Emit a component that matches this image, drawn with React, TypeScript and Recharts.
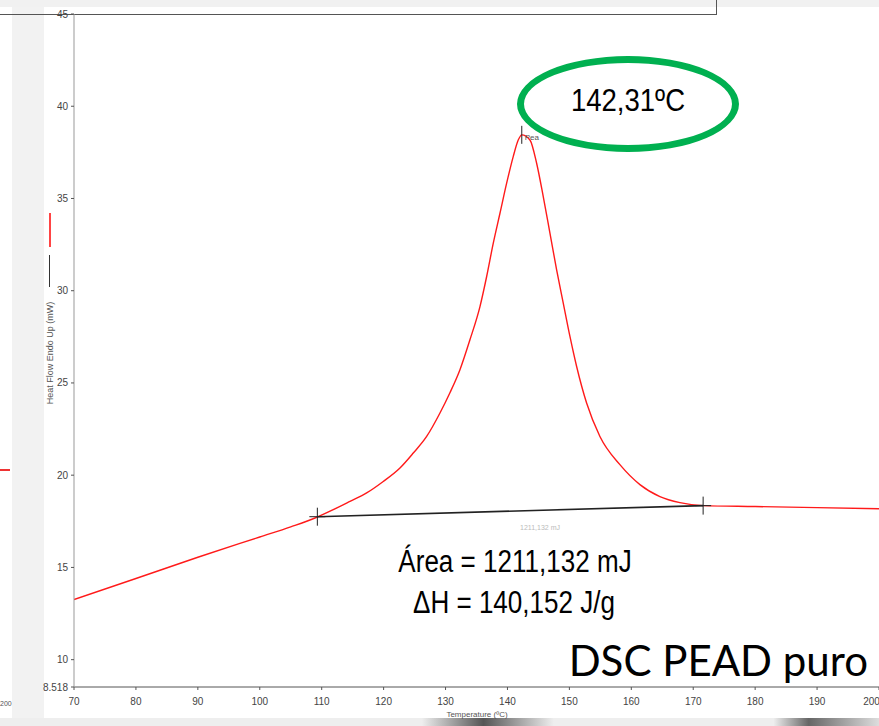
import React from 'react';
import { LineChart, Line, XAxis, YAxis, Scatter } from 'recharts';

// Temperature (ºC) and heat flow (mW)
const curveTemp = [70, 80, 90, 100, 105, 108.92, 111.87, 114.57, 117.26, 119.94, 122.64, 124.79, 126.95, 129.10, 130.71, 132.33, 133.94, 135.56, 136.64, 137.71, 138.79, 139.87, 140.93, 141.74, 142.31, 143.63, 144.71, 145.78, 146.86, 147.94, 149.01, 150.09, 151.17, 152.78, 154.93, 158.16, 161.39, 164.62, 167.85, 171.57, 180, 190, 200];
const curveHeat = [13.26, 14.4, 15.55, 16.65, 17.2, 17.68, 18.13, 18.58, 19.04, 19.66, 20.39, 21.2, 22.1, 23.37, 24.47, 25.72, 27.34, 29.14, 30.77, 32.58, 34.2, 35.83, 37.27, 38.17, 38.45, 38.17, 36.91, 35.1, 33.12, 31.13, 29.33, 27.52, 25.89, 23.91, 22.1, 20.57, 19.49, 18.84, 18.51, 18.35, 18.3, 18.24, 18.18];

// Integration baseline
const baseTemp = [109.3, 171.6];
const baseHeat = [17.75, 18.35];

// Peak marker
const peakTemp = [142.31];
const peakHeat = [38.45];

const xTicks = [70, 80, 90, 100, 110, 120, 130, 140, 150, 160, 170, 180, 190, 200];
const yTicks = [8.518, 10, 15, 20, 25, 30, 35, 40, 45];

const curveData = curveTemp.map((t, i) => ({ t, v: curveHeat[i] }));
const baseData = baseTemp.map((t, i) => ({ t, v: baseHeat[i] }));
const peakData = peakTemp.map((t, i) => ({ t, v: peakHeat[i] }));

const narrow = '"Liberation Sans", Arial, sans-serif';
const tickFont = { fontFamily: narrow, fontSize: 10, fill: '#444' };

const Cross = (props: any) => {
  const { cx, cy } = props;
  return (
    <g stroke="#222" strokeWidth={1}>
      <line x1={cx} y1={cy - 9} x2={cx} y2={cy + 9} />
      <line x1={cx - 8} y1={cy} x2={cx + 8} y2={cy} />
    </g>
  );
};

const PeakMark = (props: any) => {
  const { cx, cy } = props;
  return (
    <g>
      <line x1={cx} y1={cy - 9} x2={cx} y2={cy + 9} stroke="#222" strokeWidth={1} />
      <text x={cx + 3} y={cy + 5} fontSize={8} fill="#555" fontFamily={narrow}>Pea</text>
    </g>
  );
};

const narrowText = (extra: React.CSSProperties, sx: number): React.CSSProperties => ({
  position: 'absolute',
  textAlign: 'center',
  color: '#000',
  fontFamily: narrow,
  whiteSpace: 'nowrap',
  transform: `scaleX(${sx})`,
  transformOrigin: 'center',
  ...extra,
});

export default function App() {
  return (
    <div style={{ position: 'fixed', left: 0, top: 0, width: 879, height: 726, overflow: 'hidden', background: '#fff' }}>
      {/* slide background pieces */}
      <div style={{ position: 'absolute', left: 0, top: 0, width: 879, height: 7, background: '#f1f1f1' }} />
      <div style={{ position: 'absolute', left: 12, top: 7, width: 32, height: 715, background: '#f2f2f2' }} />
      <div style={{ position: 'absolute', left: 0, top: 718, width: 879, height: 8, background: 'linear-gradient(90deg, #eee 0%, #eee 48%, #555 55%, #eee 63%, #eee 88%, #666 92%, #ddd 100%)' }} />
      <div style={{ position: 'absolute', left: 0, top: 469, width: 10, height: 2, background: '#e33' }} />
      <div style={{ position: 'absolute', left: 0, top: 700, fontSize: 7, color: '#555', fontFamily: narrow }}>200</div>
      {/* box border at top */}
      <div style={{ position: 'absolute', left: 0, top: 0, width: 717, height: 15, borderRight: '1px solid #555', borderBottom: '1px solid #555', boxSizing: 'border-box' }} />

      <div style={{ position: 'absolute', left: 0, top: 0 }}>
        <LineChart width={879} height={726} margin={{ top: 14, right: 0, bottom: 9, left: 44 }}>
          <XAxis
            dataKey="t"
            type="number"
            domain={[70, 200]}
            ticks={xTicks}
            allowDataOverflow
            tick={tickFont}
            tickSize={3}
            tickMargin={8}
            height={30}
            stroke="#555"
            tickLine={{ stroke: '#555' }}
          />
          <YAxis
            dataKey="v"
            type="number"
            domain={[8.518, 45]}
            ticks={yTicks}
            allowDataOverflow
            interval={0}
            tick={tickFont}
            tickSize={3}
            tickMargin={3}
            width={30}
            stroke="#999"
            tickLine={{ stroke: '#555' }}
          />
          <Line data={curveData} dataKey="v" type="monotone" stroke="#ff1a1a" strokeWidth={1.4} dot={false} isAnimationActive={false} />
          <Line data={baseData} dataKey="v" type="linear" stroke="#222" strokeWidth={1.6} dot={false} isAnimationActive={false} />
          <Scatter data={baseData} dataKey="v" shape={<Cross />} isAnimationActive={false} />
          <Scatter data={peakData} dataKey="v" shape={<PeakMark />} isAnimationActive={false} />
        </LineChart>
      </div>

      {/* axis titles and legend */}
      <div style={{ position: 'absolute', left: 49, top: 213, width: 2, height: 34, background: '#f44' }} />
      <div style={{ position: 'absolute', left: 49, top: 255, width: 1, height: 32, background: '#333' }} />
      <div style={{ position: 'absolute', left: 50 - 70, top: 353 - 6, width: 140, height: 12, transform: 'rotate(-90deg)', textAlign: 'center', fontSize: 9, lineHeight: '12px', color: '#555', fontFamily: narrow, whiteSpace: 'nowrap' }}>Heat Flow Endo Up (mW)</div>
      <div style={{ position: 'absolute', left: 377, top: 710, width: 200, textAlign: 'center', fontSize: 8, lineHeight: '10px', color: '#555', fontFamily: narrow }}>Temperature (ºC)</div>

      {/* annotations */}
      <div style={{ position: 'absolute', left: 480, top: 524, width: 120, textAlign: 'center', fontSize: 7, color: '#bbb', fontFamily: narrow }}>1211,132 mJ</div>
      <div style={{ position: 'absolute', left: 517, top: 56, width: 222, height: 96, border: '7px solid #00b050', borderRadius: '50%', boxSizing: 'border-box' }} />
      <div style={narrowText({ left: 528, top: 80, width: 200, fontSize: 32, lineHeight: '40px' }, 0.86)}>142,31ºC</div>
      <div style={narrowText({ left: 365, top: 542, width: 300, fontSize: 31, lineHeight: '40px' }, 0.84)}>Área = 1211,132 mJ</div>
      <div style={narrowText({ left: 364, top: 583, width: 300, fontSize: 31, lineHeight: '40px' }, 0.84)}>ΔH = 140,152 J/g</div>
      <div style={{ position: 'absolute', left: 560, top: 633, width: 319, textAlign: 'right', fontSize: 42, lineHeight: '54px', color: '#000', fontFamily: 'Lato, "Open Sans", sans-serif', whiteSpace: 'nowrap', paddingRight: 11, boxSizing: 'border-box' }}>DSC PEAD puro</div>
    </div>
  );
}
